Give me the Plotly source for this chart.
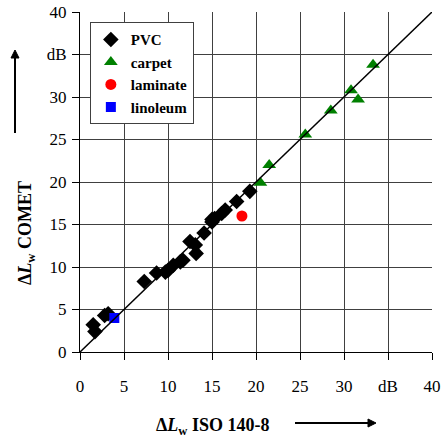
import plotly.graph_objects as go

pvc_x = [1.5, 1.7, 2.8, 3.2, 7.3, 8.7, 9.7, 10.0, 10.6, 11.4, 11.7, 12.5, 13.1, 13.2, 14.1, 15.0, 15.3, 15.0, 16.1, 16.5, 17.8, 19.3]
pvc_y = [3.2, 2.4, 4.3, 4.5, 8.3, 9.3, 9.4, 9.6, 10.2, 10.6, 10.8, 13.0, 12.6, 11.6, 14.0, 15.3, 15.7, 15.6, 16.3, 16.7, 17.7, 18.9]
carpet_x = [20.5, 21.5, 25.6, 28.5, 30.8, 31.6, 33.3]
carpet_y = [19.9, 22.0, 25.6, 28.4, 30.8, 29.7, 33.8]
laminate_x = [18.4]
laminate_y = [16.0]
linoleum_x = [3.9]
linoleum_y = [4.0]
diag = [0, 40]
tick_vals = [0, 5, 10, 15, 20, 25, 30, 35, 40]
tick_text = ["0", "5", "10", "15", "20", "25", "30", "dB", "40"]

FONT = "Liberation Serif"
fig = go.Figure()
fig.add_trace(go.Scatter(x=pvc_x, y=pvc_y, mode="markers", name="<b>PVC</b>",
                         marker=dict(symbol="diamond", size=12, color="black")))
fig.add_trace(go.Scatter(x=carpet_x, y=carpet_y, mode="markers", name="<b>carpet</b>",
                         marker=dict(symbol="triangle-up", size=12, color="#008000")))
fig.add_trace(go.Scatter(x=laminate_x, y=laminate_y, mode="markers", name="<b>laminate</b>",
                         marker=dict(symbol="circle", size=11, color="#ff0000")))
fig.add_trace(go.Scatter(x=linoleum_x, y=linoleum_y, mode="markers", name="<b>linoleum</b>",
                         marker=dict(symbol="square", size=10, color="#0000ff")))
fig.add_trace(go.Scatter(x=diag, y=diag, mode="lines", showlegend=False,
                         line=dict(color="black", width=1.5)))

axis_common = dict(range=[0, 40], tickvals=tick_vals, ticktext=tick_text,
                   showgrid=True, gridcolor="#404040", gridwidth=1,
                   showline=True, linecolor="black", linewidth=1,
                   ticks="outside", ticklen=7, tickcolor="black", automargin=False,
                   zeroline=False, tickfont=dict(family=FONT, size=17, color="black"))
fig.update_xaxes(ticklabelstandoff=12, **axis_common)
fig.update_yaxes(ticklabelstandoff=2, **axis_common)

L, R, T, B, W, H = 80, 11, 12, 85, 443, 437
pw, ph = W - L - R, H - T - B

def px(xp, yp):
    return (xp - L) / pw, (H - B - yp) / ph

tx, ty = px(212, 426)
yx, yy = px(26, 233)
a0x, a0y = px(295, 423)
a1x, a1y = px(368, 423)
h1x, h1y = px(376, 423)
b0x, b0y = px(15, 133)
b1x, b1y = px(15, 58)
g1x, g1y = px(15, 50)
dx = 8 / pw
dy = 4 / ph
ex = 4 / pw
ey = 8 / ph

fig.update_layout(
    width=W, height=H,
    margin=dict(l=L, r=R, t=T, b=B, autoexpand=False),
    plot_bgcolor="white", paper_bgcolor="white",
    font=dict(family=FONT, color="black"),
    legend=dict(x=0.028, y=0.97, xanchor="left", yanchor="top",
                bgcolor="white", bordercolor="#404040", borderwidth=1,
                font=dict(family=FONT, size=15, color="black"),
                tracegroupgap=0, itemwidth=30),
    annotations=[
        dict(text="<b>Δ<i>L</i></b><sub><b>w</b></sub><b> ISO 140-8</b>", x=tx, y=ty,
             xref="paper", yref="paper", xanchor="center", yanchor="middle",
             showarrow=False, font=dict(family=FONT, size=18)),
        dict(text="<b>Δ<i>L</i></b><sub><b>w</b></sub><b> COMET</b>", x=yx, y=yy,
             xref="paper", yref="paper", xanchor="center", yanchor="middle",
             showarrow=False, textangle=-90, font=dict(family=FONT, size=18)),
    ],
    shapes=[
        dict(type="line", xref="paper", yref="paper", x0=a0x, y0=a0y, x1=a1x, y1=a1y,
             line=dict(color="black", width=2)),
        dict(type="path", xref="paper", yref="paper",
             path=f"M {h1x} {h1y} L {h1x-dx} {h1y+dy} L {h1x-dx} {h1y-dy} Z",
             fillcolor="black", line=dict(color="black", width=1)),
        dict(type="line", xref="paper", yref="paper", x0=b0x, y0=b0y, x1=b1x, y1=b1y,
             line=dict(color="black", width=2)),
        dict(type="path", xref="paper", yref="paper",
             path=f"M {g1x} {g1y} L {g1x-ex} {g1y-ey} L {g1x+ex} {g1y-ey} Z",
             fillcolor="black", line=dict(color="black", width=1)),
    ],
)

fig.write_html("out.html", config={"displayModeBar": False},
               post_script="document.body.style.margin='0';document.body.style.overflow='hidden';")
